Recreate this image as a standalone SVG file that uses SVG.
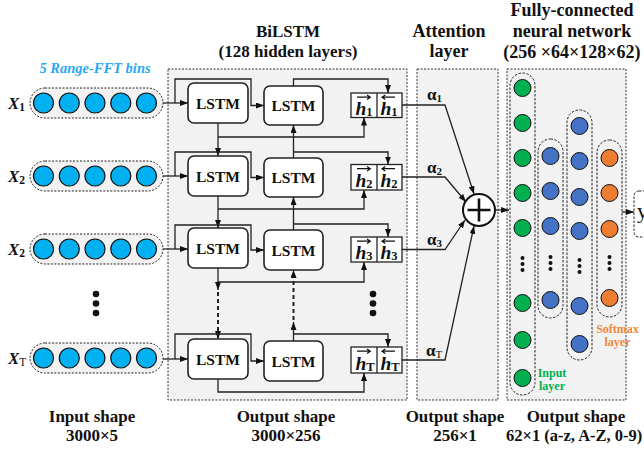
<svg xmlns="http://www.w3.org/2000/svg" width="644" height="449" viewBox="0 0 644 449">
<defs>
<style>
text{font-family:'Liberation Serif','Times New Roman',serif;font-weight:bold;fill:#111}
.ttl{font-size:17px;text-anchor:middle}
.ttl2{font-size:18px;text-anchor:middle}
.box{fill:#f2f2f2;stroke:#333;stroke-width:1;stroke-dasharray:2 1.5}
.pill{fill:#f2f2f2;stroke:#222;stroke-width:1;stroke-dasharray:2 1.5}
.fcp{fill:none;stroke:#222;stroke-width:1;stroke-dasharray:2.5 1.5}
.cin{fill:#00b0f0;stroke:#111;stroke-width:1.2}
.cg{fill:#00b050;stroke:#111;stroke-width:1}
.cb{fill:#4472c4;stroke:#111;stroke-width:1}
.co{fill:#ed7d31;stroke:#111;stroke-width:1}
.lstm rect{fill:#fff;stroke:#222;stroke-width:1.6}
.lstm text{font-size:15.5px;text-anchor:middle}
.hb rect{fill:#fff;stroke:#222;stroke-width:1.3}
.hb line{stroke:#222;stroke-width:1.3}
.hb .h{font-size:19.5px;font-style:italic;font-weight:bold}
.hb .s{font-size:12.5px;font-style:normal;font-weight:bold}
.hb path{stroke:#111;stroke-width:1.2;fill:none}
.xl{font-size:17px;font-style:italic}
.xs{font-size:11.5px;font-style:normal}
.al{font-size:17px}
.as{font-size:11px}
.con path{fill:none;stroke:#222;stroke-width:1.3}
.con .dash{stroke-dasharray:4 3;stroke-width:2}
.dot{fill:#111}
</style>
<marker id="ah" markerWidth="8" markerHeight="6" refX="8" refY="3" orient="auto" markerUnits="userSpaceOnUse"><path d="M0,0 L8,3 L0,6 z" fill="#111"/></marker>
</defs>

<!-- container boxes -->
<g id="bilstm-box"><rect class="box" x="168" y="69" width="239" height="331"/></g>
<g id="attention-box"><rect class="box" x="417" y="69" width="81" height="331"/></g>
<g id="fc-box"><rect class="box" x="507" y="69" width="119" height="331"/></g>

<!-- titles -->
<text class="ttl" x="288" y="37">BiLSTM</text>
<text class="ttl" x="288" y="57">(128 hidden layers)</text>
<text class="ttl2" x="449" y="37">Attention</text>
<text class="ttl2" x="449" y="57">layer</text>
<text class="ttl2" x="572" y="16">Fully-connected</text>
<text class="ttl2" x="572" y="37">neural network</text>
<text class="ttl2" x="572" y="58">(256 ×64×128×62)</text>
<text x="95" y="73" style="font-size:14.5px;font-style:italic;text-anchor:middle;fill:#29a8f0">5 Range-FFT bins</text>

<!-- bottom labels -->
<text class="ttl" x="92" y="422">Input shape</text>
<text class="ttl" x="92" y="441">3000×5</text>
<text class="ttl" x="286" y="422">Output shape</text>
<text class="ttl" x="286" y="441">3000×256</text>
<text class="ttl" x="455" y="422">Output shape</text>
<text class="ttl" x="455" y="441">256×1</text>
<text class="ttl" x="576" y="422">Output shape</text>
<text x="506" y="441" style="font-size:16.5px">62×1 (a-z, A-Z, 0-9)</text>

<!-- input rows -->
<g id="input-1">
<text class="xl" x="8" y="109">X<tspan class="xs" dy="2">1</tspan></text>
<rect class="pill" x="30" y="88" width="133" height="30" rx="15"/>
<circle class="cin" cx="43.5" cy="103" r="10"/><circle class="cin" cx="69.3" cy="103" r="10"/><circle class="cin" cx="95" cy="103" r="10"/><circle class="cin" cx="120.8" cy="103" r="10"/><circle class="cin" cx="146.5" cy="103" r="10"/>
</g>
<g id="input-2">
<text class="xl" x="8" y="182">X<tspan class="xs" dy="2">2</tspan></text>
<rect class="pill" x="30" y="161" width="133" height="30" rx="15"/>
<circle class="cin" cx="43.5" cy="176" r="10"/><circle class="cin" cx="69.3" cy="176" r="10"/><circle class="cin" cx="95" cy="176" r="10"/><circle class="cin" cx="120.8" cy="176" r="10"/><circle class="cin" cx="146.5" cy="176" r="10"/>
</g>
<g id="input-3">
<text class="xl" x="8" y="255">X<tspan class="xs" dy="2">2</tspan></text>
<rect class="pill" x="30" y="234" width="133" height="30" rx="15"/>
<circle class="cin" cx="43.5" cy="249" r="10"/><circle class="cin" cx="69.3" cy="249" r="10"/><circle class="cin" cx="95" cy="249" r="10"/><circle class="cin" cx="120.8" cy="249" r="10"/><circle class="cin" cx="146.5" cy="249" r="10"/>
</g>
<g id="input-dots"><circle class="dot" cx="96" cy="294" r="3.3"/><circle class="dot" cx="96" cy="303.5" r="3.3"/><circle class="dot" cx="96" cy="313" r="3.3"/></g>
<g id="input-T">
<text class="xl" x="8" y="364">X<tspan class="xs" dy="2" style="font-weight:normal">T</tspan></text>
<rect class="pill" x="30" y="343" width="133" height="30" rx="15"/>
<circle class="cin" cx="43.5" cy="358" r="10"/><circle class="cin" cx="69.3" cy="358" r="10"/><circle class="cin" cx="95" cy="358" r="10"/><circle class="cin" cx="120.8" cy="358" r="10"/><circle class="cin" cx="146.5" cy="358" r="10"/>
</g>

<!-- LSTM cells -->
<g id="lstm-f1" class="lstm"><rect x="188" y="83" width="60" height="40" rx="6"/><text x="218" y="108.5">LSTM</text></g>
<g id="lstm-b1" class="lstm"><rect x="264" y="86" width="59" height="39" rx="6"/><text x="293.5" y="111">LSTM</text></g>
<g id="lstm-f2" class="lstm"><rect x="188" y="156" width="60" height="40" rx="6"/><text x="218" y="181.5">LSTM</text></g>
<g id="lstm-b2" class="lstm"><rect x="264" y="158" width="59" height="39" rx="6"/><text x="293.5" y="183">LSTM</text></g>
<g id="lstm-f3" class="lstm"><rect x="188" y="228" width="60" height="40" rx="6"/><text x="218" y="253.5">LSTM</text></g>
<g id="lstm-b3" class="lstm"><rect x="264" y="230" width="59" height="40" rx="6"/><text x="293.5" y="255.5">LSTM</text></g>
<g id="lstm-fT" class="lstm"><rect x="188" y="339" width="60" height="40" rx="6"/><text x="218" y="364.5">LSTM</text></g>
<g id="lstm-bT" class="lstm"><rect x="264" y="341" width="59" height="40" rx="6"/><text x="293.5" y="366.5">LSTM</text></g>

<!-- hidden state boxes -->
<g id="h1" class="hb" transform="translate(351,93)">
<rect x="0" y="0" width="51" height="24.5"/><line x1="26" y1="0" x2="26" y2="24.5"/>
<text class="h" x="4.5" y="22">h<tspan class="s" dy="1">1</tspan></text>
<path d="M6,4.2 H19 M16,2 L19.3,4.2 L16,6.4"/>
<text class="h" x="29.5" y="22">h<tspan class="s" dy="1">1</tspan></text>
<path d="M31,4.2 H44 M34.3,2 L31,4.2 L34.3,6.4"/>
</g>
<g id="h2" class="hb" transform="translate(351,164.5)">
<rect x="0" y="0" width="51" height="25.5"/><line x1="26" y1="0" x2="26" y2="25.5"/>
<text class="h" x="4.5" y="22.5">h<tspan class="s" dy="1">2</tspan></text>
<path d="M6,4.2 H19 M16,2 L19.3,4.2 L16,6.4"/>
<text class="h" x="29.5" y="22.5">h<tspan class="s" dy="1">2</tspan></text>
<path d="M31,4.2 H44 M34.3,2 L31,4.2 L34.3,6.4"/>
</g>
<g id="h3" class="hb" transform="translate(351,237)">
<rect x="0" y="0" width="51" height="25"/><line x1="26" y1="0" x2="26" y2="25"/>
<text class="h" x="4.5" y="22">h<tspan class="s" dy="1">3</tspan></text>
<path d="M6,4.2 H19 M16,2 L19.3,4.2 L16,6.4"/>
<text class="h" x="29.5" y="22">h<tspan class="s" dy="1">3</tspan></text>
<path d="M31,4.2 H44 M34.3,2 L31,4.2 L34.3,6.4"/>
</g>
<g id="h-dots"><circle class="dot" cx="373" cy="294" r="3.3"/><circle class="dot" cx="373" cy="303.5" r="3.3"/><circle class="dot" cx="373" cy="313" r="3.3"/></g>
<g id="hT" class="hb" transform="translate(351,347)">
<rect x="0" y="0" width="51" height="26"/><line x1="26" y1="0" x2="26" y2="26"/>
<text class="h" x="4.5" y="22.5">h<tspan class="s" dy="1">T</tspan></text>
<path d="M6,4.2 H19 M16,2 L19.3,4.2 L16,6.4"/>
<text class="h" x="29.5" y="22.5">h<tspan class="s" dy="1">T</tspan></text>
<path d="M31,4.2 H44 M34.3,2 L31,4.2 L34.3,6.4"/>
</g>

<!-- attention labels -->
<text class="al" x="427" y="100">α<tspan class="as" dy="2">1</tspan></text>
<text class="al" x="427" y="173">α<tspan class="as" dy="2">2</tspan></text>
<text class="al" x="427" y="245">α<tspan class="as" dy="2">3</tspan></text>
<text class="al" x="426" y="356">α<tspan class="as" dy="2" style="font-weight:normal">T</tspan></text>

<!-- sum node -->
<g id="sum">
<circle cx="479" cy="210" r="16" fill="#fff" stroke="#111" stroke-width="2"/>
<path d="M467.5,210 H490.5 M479,198.5 V221.5" stroke="#111" stroke-width="2.6"/>
</g>

<!-- FC network -->
<g id="fc-input">
<rect class="fcp" x="510" y="73" width="25" height="322" rx="12.5"/>
<circle class="cg" cx="522.5" cy="88" r="8.5"/><circle class="cg" cx="522.5" cy="123" r="8.5"/><circle class="cg" cx="522.5" cy="158" r="8.5"/><circle class="cg" cx="522.5" cy="193" r="8.5"/><circle class="cg" cx="522.5" cy="228" r="8.5"/>
<circle class="dot" cx="522.5" cy="258" r="2"/><circle class="dot" cx="522.5" cy="264" r="2"/><circle class="dot" cx="522.5" cy="270" r="2"/>
<circle class="cg" cx="522.5" cy="303" r="8.5"/><circle class="cg" cx="522.5" cy="340" r="8.5"/><circle class="cg" cx="522.5" cy="378" r="8.5"/>
</g>
<g id="fc-hidden1">
<rect class="fcp" x="538" y="139" width="25" height="179" rx="12.5"/>
<circle class="cb" cx="550.5" cy="156" r="8.5"/><circle class="cb" cx="550.5" cy="191" r="8.5"/><circle class="cb" cx="550.5" cy="226" r="8.5"/>
<circle class="dot" cx="550.5" cy="257" r="2"/><circle class="dot" cx="550.5" cy="263" r="2"/><circle class="dot" cx="550.5" cy="269" r="2"/>
<circle class="cb" cx="550.5" cy="300" r="8.5"/>
</g>
<g id="fc-hidden2">
<rect class="fcp" x="567" y="110" width="25" height="250" rx="12.5"/>
<circle class="cb" cx="579.5" cy="126" r="8.5"/><circle class="cb" cx="579.5" cy="161" r="8.5"/><circle class="cb" cx="579.5" cy="197" r="8.5"/><circle class="cb" cx="579.5" cy="231" r="8.5"/>
<circle class="dot" cx="579.5" cy="260" r="2"/><circle class="dot" cx="579.5" cy="266" r="2"/><circle class="dot" cx="579.5" cy="272" r="2"/>
<circle class="cb" cx="579.5" cy="306" r="8.5"/><circle class="cb" cx="579.5" cy="344" r="8.5"/>
</g>
<g id="fc-softmax">
<rect class="fcp" x="597" y="140" width="25" height="177" rx="12.5"/>
<circle class="co" cx="609.5" cy="158" r="8.5"/><circle class="co" cx="609.5" cy="193" r="8.5"/><circle class="co" cx="609.5" cy="229" r="8.5"/>
<circle class="dot" cx="609.5" cy="257" r="2"/><circle class="dot" cx="609.5" cy="263" r="2"/><circle class="dot" cx="609.5" cy="269" r="2"/>
<circle class="co" cx="609.5" cy="298" r="8.5"/>
</g>
<text x="552" y="377" style="font-size:12px;text-anchor:middle;fill:#00b050">Input</text>
<text x="552" y="390" style="font-size:12px;text-anchor:middle;fill:#00b050">layer</text>
<text x="617.5" y="333" style="font-size:12px;text-anchor:middle;fill:#f0883a">Softmax</text>
<text x="617.5" y="346" style="font-size:12px;text-anchor:middle;fill:#f0883a">layer</text>

<!-- output node -->
<g id="output-y">
<rect x="634" y="191" width="30" height="46" rx="5" fill="#fff" stroke="#222" stroke-width="1" stroke-dasharray="2.5 1.5"/>
<text x="637" y="218" style="font-size:22px;font-weight:normal">y</text>
</g>

<!-- connectors -->
<g id="connectors" class="con">
<path d="M163,103 H188" marker-end="url(#ah)"/>
<path d="M175,103 V79 H251 V105.5 H264" marker-end="url(#ah)"/>
<path d="M293.5,86 V79 H388 V93" marker-end="url(#ah)"/>
<path d="M218,123 V156" marker-end="url(#ah)"/>
<path d="M218,137 H364 V117.5" marker-end="url(#ah)"/>

<path d="M163,176 H188" marker-end="url(#ah)"/>
<path d="M175,176 V152 H251 V177.5 H264" marker-end="url(#ah)"/>
<path d="M293.5,158 V125" marker-end="url(#ah)"/>
<path d="M293.5,152 H388 V164.5" marker-end="url(#ah)"/>
<path d="M218,196 V228" marker-end="url(#ah)"/>
<path d="M218,209 H364 V190" marker-end="url(#ah)"/>

<path d="M163,249 H188" marker-end="url(#ah)"/>
<path d="M175,249 V225 H251 V250 H264" marker-end="url(#ah)"/>
<path d="M293.5,230 V197" marker-end="url(#ah)"/>
<path d="M293.5,224 H388 V237" marker-end="url(#ah)"/>
<path d="M218,268 V290" marker-end="url(#ah)"/>
<path d="M218,282 H364 V262" marker-end="url(#ah)"/>
<path class="dash" d="M218,292 V339" marker-end="url(#ah)"/>

<path d="M163,359 H188" marker-end="url(#ah)"/>
<path d="M175,359 V334 H251 V361 H264" marker-end="url(#ah)"/>
<path d="M293.5,341 V322" marker-end="url(#ah)"/>
<path class="dash" d="M293.5,320 V270" marker-end="url(#ah)"/>
<path d="M293.5,334 H388 V347" marker-end="url(#ah)"/>
<path d="M218,379 V392 H364 V373" marker-end="url(#ah)"/>

<path d="M402,105 H445 L474,194" marker-end="url(#ah)"/>
<path d="M402,177 H445 L466,202" marker-end="url(#ah)"/>
<path d="M402,249.5 H445 L465,220" marker-end="url(#ah)"/>
<path d="M402,360 H445 L474,226" marker-end="url(#ah)"/>
<path d="M495,210 H509" marker-end="url(#ah)"/>
<path d="M622,212 H634" marker-end="url(#ah)"/>
</g>
</svg>
